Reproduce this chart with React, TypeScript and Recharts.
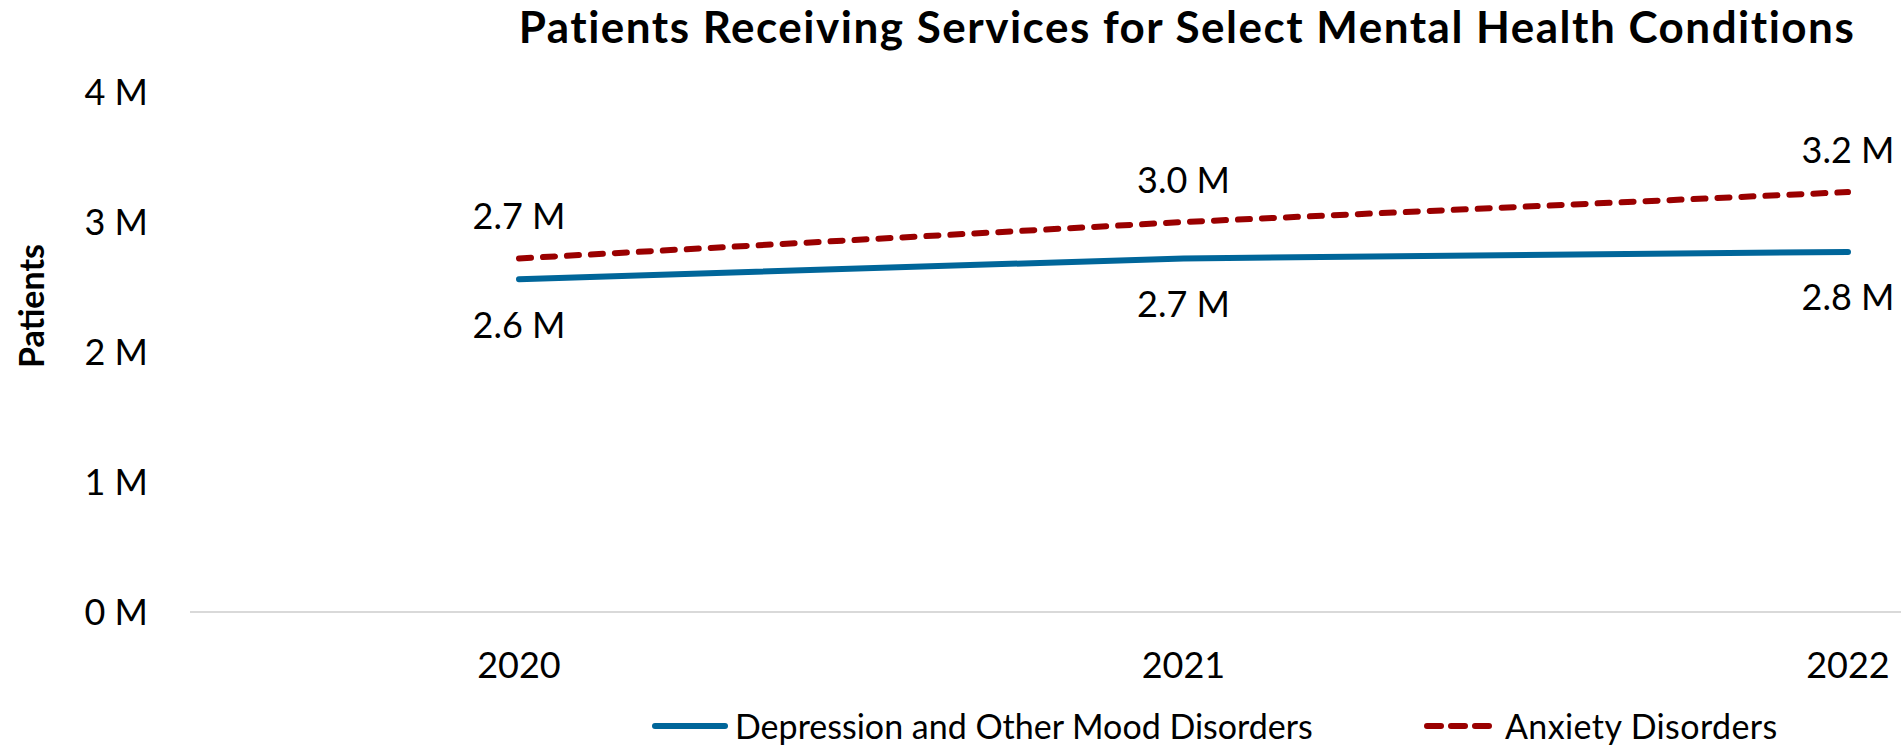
import React from 'react';
import { LineChart, Line, XAxis, YAxis, LabelList } from 'recharts';

const years = ['2020', '2021', '2022'];
const depression = [2560000, 2720000, 2770000];
const anxiety = [2720000, 3000000, 3230000];
const yTicks = [0, 1000000, 2000000, 3000000, 4000000];

const seriesNames = ['Depression and Other Mood Disorders', 'Anxiety Disorders'];
const BLUE = '#00669A';
const RED = '#9A0000';
const FONT = 'Lato, "Open Sans", sans-serif';

const chartData = years.map((year, i) => ({
    year,
    depression: depression[i],
    anxiety: anxiety[i],
}));

const fmtMillions = (v: number) => `${(v / 1000000).toFixed(1)} M`;
const fmtTick = (v: number) => `${v / 1000000} M`;

const YLabel = () => (
    <text
        x={44}
        y={306}
        transform="rotate(-90, 44, 306)"
        textAnchor="middle"
        fontFamily={FONT}
        fontWeight={700}
        fontSize={34}
        fill="#000"
    >
        Patients
    </text>
);

const LegendSample: React.FC<{ color: string; dashed?: boolean; left: number }> = ({ color, dashed, left }) => (
    <svg width={76} height={12} style={{ position: 'absolute', left, top: 22 }}>
        <line
            x1={3}
            y1={6}
            x2={dashed ? 69 : 73}
            y2={6}
            stroke={color}
            strokeWidth={6}
            strokeLinecap="round"
            strokeDasharray={dashed ? '14 10' : undefined}
        />
    </svg>
);

const App: React.FC = () => {
    return (
        <div style={{ position: 'absolute', left: 0, top: 0, width: 1901, height: 745, background: '#fff', fontFamily: FONT }}>
            <div
                style={{
                    position: 'absolute',
                    left: 487,
                    top: 0,
                    width: 1400,
                    textAlign: 'center',
                    fontWeight: 700,
                    fontSize: 44,
                    letterSpacing: 1.5,
                    color: '#000',
                    whiteSpace: 'nowrap',
                }}
            >
                Patients Receiving Services for Select Mental Health Conditions
            </div>
            <LineChart
                width={1901}
                height={745}
                data={chartData}
                margin={{ top: 92, right: 0, left: 0, bottom: 0 }}
                style={{ position: 'absolute', left: 0, top: 0 }}
            >
                <XAxis
                    dataKey="year"
                    height={133}
                    axisLine={{ stroke: '#D9D9D9', strokeWidth: 2 }}
                    tickLine={false}
                    tickSize={0}
                    tickMargin={40}
                    padding={{ left: 329, right: 53 }}
                    tick={{ fill: '#000', fontSize: 36, fontFamily: FONT }}
                />
                <YAxis
                    width={190}
                    domain={[0, 4000000]}
                    ticks={yTicks}
                    tickFormatter={fmtTick}
                    axisLine={false}
                    tickLine={false}
                    tickSize={0}
                    tickMargin={42}
                    tick={{ fill: '#000', fontSize: 36, fontFamily: FONT }}
                    label={{ content: () => <YLabel /> }}
                />
                <Line
                    dataKey="depression"
                    name={seriesNames[0]}
                    stroke={BLUE}
                    strokeWidth={6}
                    strokeLinecap="round"
                    dot={false}
                    isAnimationActive={false}
                >
                    <LabelList
                        dataKey="depression"
                        position="bottom"
                        offset={33}
                        formatter={(v: number) => fmtMillions(v)}
                        style={{ fill: '#000', fontSize: 36, fontFamily: FONT }}
                    />
                </Line>
                <Line
                    dataKey="anxiety"
                    name={seriesNames[1]}
                    stroke={RED}
                    strokeWidth={6}
                    strokeLinecap="round"
                    strokeDasharray="12 12"
                    dot={false}
                    isAnimationActive={false}
                >
                    <LabelList
                        dataKey="anxiety"
                        position="top"
                        offset={29}
                        formatter={(v: number) => fmtMillions(v)}
                        style={{ fill: '#000', fontSize: 36, fontFamily: FONT }}
                    />
                </Line>
            </LineChart>
            <div
                style={{
                    position: 'absolute',
                    left: 0,
                    top: 698,
                    width: 1901,
                    height: 47,
                    fontSize: 34,
                    color: '#000',
                    whiteSpace: 'nowrap',
                    lineHeight: '56px',
                }}
            >
                <LegendSample color={BLUE} left={652} />
                <span style={{ position: 'absolute', left: 735, top: 0 }}>{seriesNames[0]}</span>
                <LegendSample color={RED} dashed left={1424} />
                <span style={{ position: 'absolute', left: 1505, top: 0, letterSpacing: 0.4 }}>{seriesNames[1]}</span>
            </div>
        </div>
    );
};

export default App;
